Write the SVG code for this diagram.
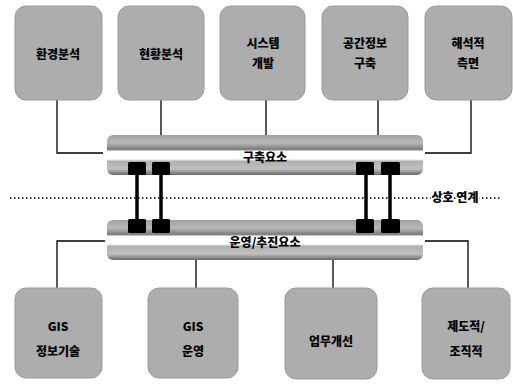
<svg xmlns="http://www.w3.org/2000/svg" width="513" height="388" viewBox="0 0 513 388">
<style>
.box{fill:#adadad;stroke:#9a9a9a;stroke-width:1}
.t{font-family:"Noto Sans CJK KR","Noto Sans",sans-serif;font-weight:900;font-size:12px;fill:#000;text-anchor:middle}
.ln{stroke:#000;stroke-width:1.3;fill:none}
.sq{fill:#000}
.rod{stroke:#000;stroke-width:3.5}
</style>
<defs>
<linearGradient id="tube" x1="0" y1="0" x2="0" y2="1">
<stop offset="0" stop-color="#a0a0a0"/>
<stop offset="0.2" stop-color="#b8b8b8"/>
<stop offset="0.36" stop-color="#7a7a7a"/>
<stop offset="0.41" stop-color="#ffffff"/>
<stop offset="0.6" stop-color="#ffffff"/>
<stop offset="0.66" stop-color="#b0b0b0"/>
<stop offset="0.85" stop-color="#c0c0c0"/>
<stop offset="1" stop-color="#666666"/>
</linearGradient>
</defs>
<g id="connectors">
<polyline class="ln" points="57,100 57,153 103,153"/>
<line class="ln" x1="161" y1="100" x2="161" y2="135"/>
<line class="ln" x1="266" y1="100" x2="266" y2="135"/>
<line class="ln" x1="378" y1="100" x2="378" y2="135"/>
<polyline class="ln" points="471,100 471,153 425,153"/>
<polyline class="ln" points="105,241 57,241 57,288"/>
<line class="ln" x1="196" y1="260" x2="196" y2="288"/>
<line class="ln" x1="333" y1="260" x2="333" y2="288"/>
<polyline class="ln" points="425,241 468,241 468,288"/>
<line x1="10" y1="198" x2="500" y2="198" stroke="#000" stroke-width="1.5" stroke-dasharray="1.5,2.5"/>
<line class="rod" x1="137" y1="172" x2="137" y2="222"/>
<line class="rod" x1="161" y1="172" x2="161" y2="222"/>
<line class="rod" x1="366" y1="172" x2="366" y2="222"/>
<line class="rod" x1="390" y1="172" x2="390" y2="222"/>
</g>
<g id="bar-top">
<rect x="107" y="135" width="316" height="40" rx="6" fill="url(#tube)"/>
<text class="t" x="265" y="162">구축요소</text>
<rect class="sq" x="128" y="162" width="18" height="13" rx="1.5"/>
<rect class="sq" x="152" y="162" width="18" height="13" rx="1.5"/>
<rect class="sq" x="356" y="162" width="18" height="13" rx="1.5"/>
<rect class="sq" x="381" y="162" width="19" height="13" rx="1.5"/>
</g>
<g id="bar-bottom">
<rect x="107" y="220" width="316" height="40" rx="6" fill="url(#tube)"/>
<text class="t" x="265" y="247">운영/추진요소</text>
<rect class="sq" x="128" y="219" width="18" height="14" rx="1.5"/>
<rect class="sq" x="152" y="219" width="18" height="14" rx="1.5"/>
<rect class="sq" x="356" y="219" width="18" height="14" rx="1.5"/>
<rect class="sq" x="381" y="219" width="19" height="14" rx="1.5"/>
</g>
<g id="label-link">
<text class="t" x="455" y="202" font-size="13" stroke="#fff" stroke-width="3" paint-order="stroke">상호 연계</text>
</g>
<g id="n1"><rect class="box" x="15" y="6" width="87" height="94" rx="11"/><text class="t" x="58" y="59">환경분석</text></g>
<g id="n2"><rect class="box" x="118" y="6" width="86" height="94" rx="11"/><text class="t" x="161" y="59">현황분석</text></g>
<g id="n3"><rect class="box" x="220" y="6" width="85" height="94" rx="11"/><text class="t" x="263" y="48">시스템</text><text class="t" x="263" y="68">개발</text></g>
<g id="n4"><rect class="box" x="322" y="6" width="86" height="94" rx="11"/><text class="t" x="365" y="48">공간정보</text><text class="t" x="365" y="68">구축</text></g>
<g id="n5"><rect class="box" x="425" y="6" width="87" height="94" rx="11"/><text class="t" x="468" y="48">해석적</text><text class="t" x="468" y="68">측면</text></g>
<g id="n6"><rect class="box" x="15" y="288" width="87" height="90" rx="11"/><text class="t" x="58" y="331">GIS</text><text class="t" x="58" y="356">정보기술</text></g>
<g id="n7"><rect class="box" x="148" y="288" width="90" height="90" rx="11"/><text class="t" x="193" y="331">GIS</text><text class="t" x="193" y="356">운영</text></g>
<g id="n8"><rect class="box" x="285" y="288" width="92" height="91" rx="11"/><text class="t" x="331" y="346">업무개선</text></g>
<g id="n9"><rect class="box" x="422" y="288" width="88" height="91" rx="11"/><text class="t" x="466" y="331">제도적/</text><text class="t" x="466" y="356">조직적</text></g>
</svg>
